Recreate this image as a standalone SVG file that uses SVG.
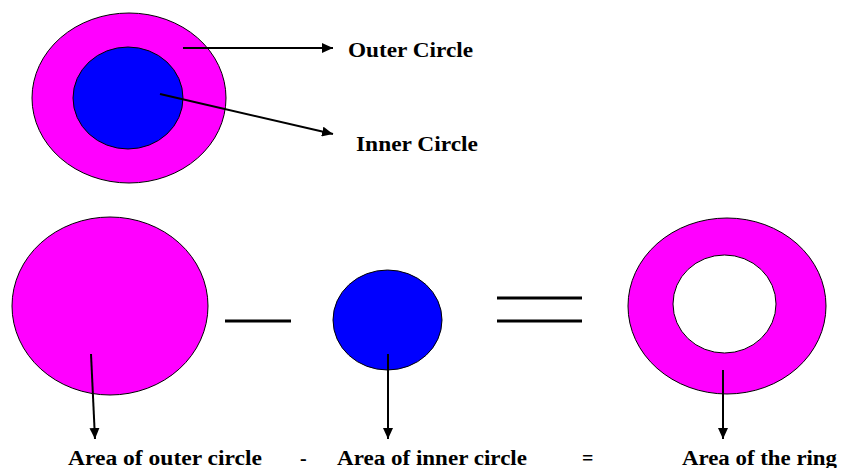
<svg xmlns="http://www.w3.org/2000/svg" width="842" height="468" viewBox="0 0 842 468">
<defs>
<marker id="ah" markerWidth="11" markerHeight="10" refX="11" refY="5" orient="auto" markerUnits="userSpaceOnUse">
<path d="M0,0 L11,5 L0,10 Z" fill="#000"/>
</marker>
<style>
.mag{fill:#FF00FF;stroke:#000;stroke-width:1}
.blu{fill:#0000FF;stroke:#000;stroke-width:1}
.hole{fill:#FFFFFF;stroke:#000;stroke-width:1}
.lbl{font-family:"Liberation Serif","Times New Roman",serif;font-weight:bold;font-size:20px;fill:#000}
.conn{stroke:#000;stroke-width:2;fill:none;marker-end:url(#ah)}
.op{stroke:#000;stroke-width:3;fill:none}
</style>
</defs>
<rect width="842" height="468" fill="#FFFFFF"/>
<g id="concentric">
<ellipse class="mag" cx="129" cy="98" rx="97" ry="85"/>
<ellipse class="blu" cx="128" cy="98" rx="55" ry="51"/>
</g>
<g id="outer-label"><text class="lbl" x="348" y="57" textLength="125" lengthAdjust="spacingAndGlyphs">Outer Circle</text></g>
<g id="inner-label"><text class="lbl" x="356" y="151" textLength="122" lengthAdjust="spacingAndGlyphs">Inner Circle</text></g>
<g id="outer-circle"><ellipse class="mag" cx="110" cy="306" rx="98" ry="89"/></g>
<g id="minus-sign"><line class="op" x1="225" y1="321" x2="291" y2="321"/></g>
<g id="inner-circle"><ellipse class="blu" cx="387.5" cy="320" rx="54.5" ry="50"/></g>
<g id="equals-sign">
<line class="op" x1="497" y1="298" x2="582" y2="298"/>
<line class="op" x1="497" y1="321" x2="582" y2="321"/>
</g>
<g id="ring">
<ellipse class="mag" cx="727" cy="306" rx="99" ry="88"/>
<ellipse class="hole" cx="724.5" cy="304" rx="51.5" ry="49"/>
</g>
<g id="bottom-labels">
<text class="lbl" x="68" y="465" font-size="21" textLength="194" lengthAdjust="spacingAndGlyphs">Area of outer circle</text>
<text class="lbl" x="300" y="465" font-size="21">-</text>
<text class="lbl" x="337" y="465" font-size="21" textLength="190" lengthAdjust="spacingAndGlyphs">Area of inner circle</text>
<text class="lbl" x="582" y="465" font-size="21">=</text>
<text class="lbl" x="682" y="465" font-size="21" textLength="155" lengthAdjust="spacingAndGlyphs">Area of the ring</text>
</g>
<g id="connectors">
<line class="conn" x1="183" y1="48" x2="333" y2="48"/>
<line class="conn" x1="160" y1="94" x2="333" y2="134"/>
<line class="conn" x1="91" y1="354" x2="95" y2="439"/>
<line class="conn" x1="388" y1="354" x2="388" y2="439"/>
<line class="conn" x1="723" y1="370" x2="723" y2="439"/>
</g>
</svg>
